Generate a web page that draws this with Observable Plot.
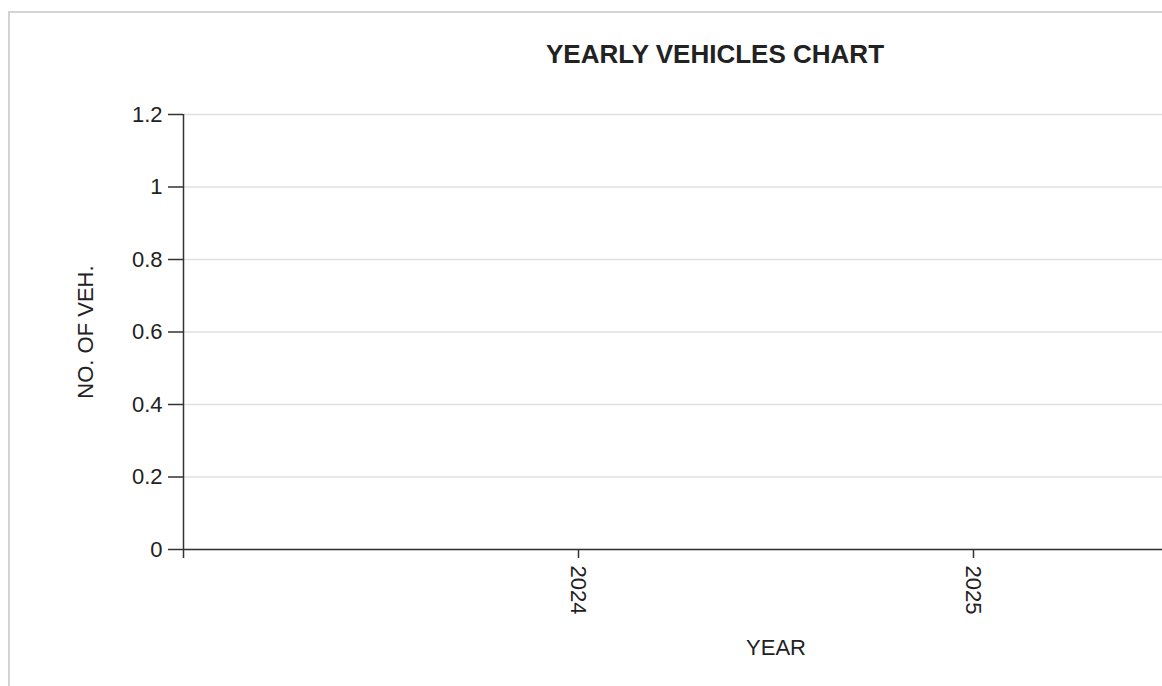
<!DOCTYPE html>
<html><head><meta charset="utf-8">
<script src="https://cdn.jsdelivr.net/npm/d3@7"></script>
<script src="https://cdn.jsdelivr.net/npm/@observablehq/plot@0.6"></script>
<style>
html,body{margin:0;padding:0;width:1162px;height:686px;overflow:hidden;background:#fff;font-family:"Liberation Sans",Arial,sans-serif;}
#border{position:absolute;left:8px;top:11px;width:1420px;height:700px;border-left:2px solid #d3d3d3;border-top:2px solid #d3d3d3;}
#title{position:absolute;left:10px;width:1410px;top:41px;text-align:center;font-weight:bold;font-size:26px;line-height:26px;color:#222;}
#chart{position:absolute;left:0;top:0;width:1420px;height:686px;}
#chart svg{max-width:none !important;width:1420px;height:686px;}
</style></head><body>
<div id="border"></div>
<div id="chart"></div>
<div id="title"></div>
<script>
const chartTitle = "YEARLY VEHICLES CHART";
const years = [2024, 2025];
const vehicles = [0, 0];
const yTicks = [0, 0.2, 0.4, 0.6, 0.8, 1, 1.2];
const xDomain = [2023, 2026];
const yLabel = "NO. OF VEH.";
const xLabel = "YEAR";

const data = years.map((year, i) => ({year, vehicles: vehicles[i]}));
document.getElementById("title").textContent = chartTitle;

const axisColor = "#333";
const chart = Plot.plot({
  width: 1420,
  height: 686,
  marginLeft: 183,
  marginTop: 114,
  marginBottom: 137,
  marginRight: 52,
  style: {fontFamily: "'Liberation Sans', Arial, sans-serif", fontSize: "22px", color: "#222", background: "transparent", overflow: "visible", maxWidth: "none"},
  x: {domain: xDomain, axis: null, label: null},
  y: {domain: [0, 1.2], axis: null, label: null},
  marks: [
    Plot.gridY(yTicks, {stroke: "#e0e0e0", strokeOpacity: 1, strokeWidth: 1.5}),
    Plot.rectY(data, {x1: d => d.year - 0.3, x2: d => d.year + 0.3, y: "vehicles", fill: "steelblue"}),
    Plot.axisY(yTicks, {label: null, tickSize: 15, tickPadding: 6, tickFormat: d => String(d), stroke: axisColor, strokeWidth: 1.5, fontSize: 22, fill: "#222"}),
    Plot.axisX(years, {label: null, tickSize: 9, tickPadding: 7, tickRotate: 90, tickFormat: d => String(d), stroke: axisColor, strokeWidth: 1.5, fontSize: 22, fill: "#222"}),
    Plot.ruleX([xDomain[0]], {stroke: axisColor, strokeWidth: 1.5, insetBottom: -9}),
    Plot.ruleY([0], {stroke: axisColor, strokeWidth: 1.5}),
    Plot.text([yLabel], {text: d => d, frameAnchor: "left", textAnchor: "middle", lineAnchor: "middle", rotate: -90, dx: -98, fontSize: 22, fill: "#222"}),
    Plot.text([xLabel], {text: d => d, frameAnchor: "bottom", textAnchor: "middle", lineAnchor: "bottom", dy: 105, fontSize: 22, fill: "#222"})
  ]
});
document.getElementById("chart").appendChild(chart);
</script>
</body></html>
